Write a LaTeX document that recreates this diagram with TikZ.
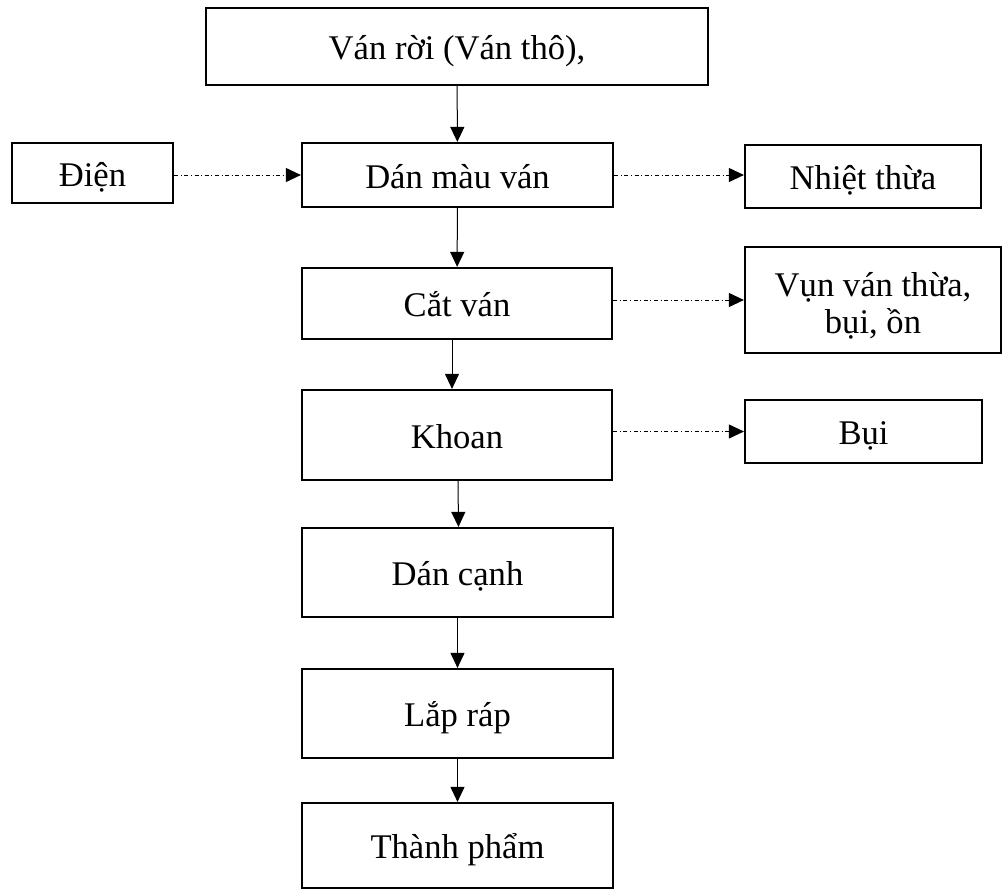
\documentclass[tikz,border=0pt]{standalone}
\usepackage{fontspec}
\setmainfont{Liberation Serif}
\usetikzlibrary{arrows.meta}

\begin{document}
\begin{tikzpicture}[x=0.5pt,y=-0.5pt,
    box/.style={draw, line width=1.1pt, align=center, inner sep=0pt,
      font=\fontsize{17.3}{18.5}\selectfont, text height=15.2pt, text depth=2.1pt},
    flow/.style={-{Triangle[length=7.5pt,width=7pt]}, line width=0.5pt},
    side/.style={-{Triangle[length=7.5pt,width=7pt]}, line width=0.5pt,
      dash pattern=on 2pt off 1.3pt on 0.5pt off 1.3pt}]
        \useasboundingbox (0,0) rectangle (1003,890);

        % main line
        \node[box, minimum width=251pt, minimum height=38.5pt] (vanroi) at (457, 46.5) {Ván rời (Ván thô),};
        \node[box, minimum width=155.5pt, minimum height=32pt] (danmau) at (457.5, 175) {Dán màu ván};
        \node[box, minimum width=155pt, minimum height=35.5pt] (catvan) at (457, 303.5) {Cắt ván};
        \node[box, minimum width=155pt, minimum height=45pt] (khoan) at (457, 435) {Khoan};
        \node[box, minimum width=155.5pt, minimum height=44.5pt] (dancanh) at (457.5, 572.5) {Dán cạnh};
        \node[box, minimum width=155.5pt, minimum height=44.5pt] (laprap) at (457.5, 713.5) {Lắp ráp};
        \node[box, minimum width=155.5pt, minimum height=42.5pt] (thanhpham) at (457.5, 845.5) {Thành phẩm};

        % inputs and outputs
        \node[box, minimum width=80.5pt, minimum height=30pt] (dien) at (92.5, 173) {Điện};
        \node[box, minimum width=118pt, minimum height=31.5pt] (nhiet) at (863, 176.5) {Nhiệt thừa};
        \node[box, minimum width=128pt, minimum height=53pt, text height=35pt, text depth=2pt] (vun) at (873, 300) {Vụn ván thừa,\\bụi, ồn};
        \node[box, minimum width=118.5pt, minimum height=31.5pt] (bui) at (863.5, 431.5) {Bụi};

        \draw[flow] (vanroi) -- (danmau);
        \draw[flow] (danmau) -- (catvan);
        \draw[flow] ([xshift=-2.5pt]catvan.south) -- ([xshift=-2.5pt]khoan.north);
        \draw[flow] ([xshift=0.5pt]khoan.south) -- ([xshift=0.5pt]dancanh.north);
        \draw[flow] (dancanh) -- (laprap);
        \draw[flow] (laprap) -- (thanhpham);

        \draw[side] (dien.east |- danmau.west) -- (danmau.west);
        \draw[side] (danmau.east) -- (nhiet.west |- danmau.east);
        \draw[side] (catvan.east |- vun.west) -- (vun.west);
        \draw[side] (khoan.east |- bui.west) -- (bui.west);
\end{tikzpicture}
\end{document}
